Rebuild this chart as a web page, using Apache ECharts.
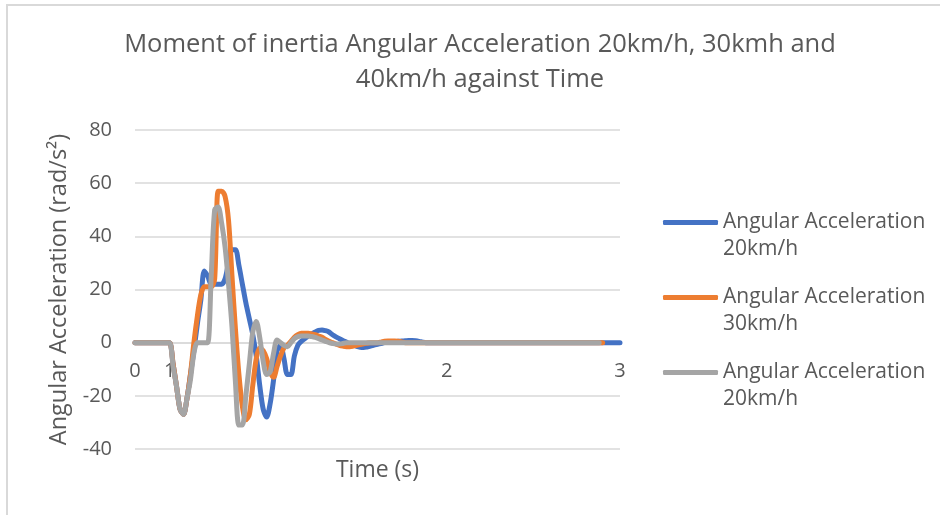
<!DOCTYPE html>
<html>
<head>
<meta charset="utf-8">
<script src="https://cdn.jsdelivr.net/npm/echarts@6/dist/echarts.min.js"></script>
<style>
  html, body { margin: 0; padding: 0; background: #fff; }
  #chart { width: 940px; height: 515px; }
</style>
</head>
<body>
<div id="chart"></div>
<script>
// time samples (s) used as categories
var timeValues = [
  0, 0.1, 0.2, 0.3, 0.4, 0.5, 0.6, 0.7, 0.8, 0.9,
  1, 1.0125, 1.025, 1.0375, 1.05, 1.0625, 1.075, 1.0875, 1.1, 1.1125,
  1.125, 1.1375, 1.15, 1.1625, 1.175, 1.1875, 1.2, 1.2125, 1.225, 1.2375,
  1.25, 1.2625, 1.275, 1.2875, 1.3, 1.3125, 1.325, 1.3375, 1.35, 1.3625,
  1.375, 1.3875, 1.4, 1.4125, 1.425, 1.4375, 1.45, 1.4625, 1.475, 1.4875,
  1.5, 1.5125, 1.525, 1.5375, 1.55, 1.5625, 1.575, 1.5875, 1.6, 1.6125,
  1.625, 1.6375, 1.65, 1.6625, 1.675, 1.6875, 1.7, 1.7125, 1.725, 1.7375,
  1.75, 1.7625, 1.775, 1.7875, 1.8, 1.8125, 1.825, 1.8375, 1.85, 1.8625,
  1.875, 1.8875, 1.9, 1.9125, 1.925, 1.9375, 1.95, 1.9625, 1.975, 1.9875,
  2, 2.02, 2.04, 2.06, 2.08, 2.1, 2.12, 2.14, 2.16, 2.18,
  2.2, 2.22, 2.24, 2.26, 2.28, 2.3, 2.32, 2.34, 2.36, 2.38,
  2.4, 2.42, 2.44, 2.46, 2.48, 2.5, 2.52, 2.54, 2.56, 2.58,
  2.6, 2.62, 2.64, 2.66, 2.68, 2.7, 2.72, 2.74, 2.76, 2.78,
  2.8, 2.82, 2.84, 2.86, 2.88, 2.9, 2.92, 2.94, 2.96, 2.98,
  3
];

// labels that Excel shows on the time axis
var xTickLabels = ['0', '1', '2', '3'];

// angular acceleration (rad/s^2)
var acc20 = [
  0, 0, 0, 0, 0, 0, 0, 0, 0, 0,
  0, -8, -16.5, -25, -27, -21, -12, -3, 7, 16,
  27, 25, 22, 22, 22, 22, 24, 30, 35, 35,
  29, 22, 15, 9, 3, -5, -16, -25, -28, -23,
  -14, -3, -1, -6, -12, -12, -5, -1, 0.5, 1.5,
  2.5, 3.3, 4, 4.6, 4.8, 4.5, 4, 3, 2.2, 1.5,
  0.8, 0.2, -0.4, -0.9, -1.4, -1.7, -1.8, -1.6, -1.3, -0.9,
  -0.6, -0.3, 0, 0.2, 0.3, 0.4, 0.5, 0.6, 0.7, 0.8,
  0.8, 0.7, 0.5, 0.2, 0, 0, 0, 0, 0, 0,
  0, 0, 0, 0, 0, 0, 0, 0, 0, 0,
  0, 0, 0, 0, 0, 0, 0, 0, 0, 0,
  0, 0, 0, 0, 0, 0, 0, 0, 0, 0,
  0, 0, 0, 0, 0, 0, 0, 0, 0, 0,
  0, 0, 0, 0, 0, 0, 0, 0, 0, 0,
  0
];

var acc30 = [
  0, 0, 0, 0, 0, 0, 0, 0, 0, 0,
  0, -8, -16.5, -25, -27, -21, -12, 0, 10, 18,
  21, 21, 21, 24, 57, 57, 55, 46, 25, 5,
  -12, -24, -29, -27, -16, -6, -2, -3, -6, -11,
  -13, -9, -5, -2, -1, 0.5, 2, 3, 3.5, 3.5,
  3.5, 3.3, 3, 2.5, 2, 1.2, 0.5, 0, -0.5, -1,
  -1.3, -1.5, -1.5, -1.3, -1, -0.7, -0.4, -0.2, 0, 0,
  0, 0.2, 0.5, 0.6, 0.6, 0.6, 0.5, 0.3, 0, 0,
  0, 0, 0, 0, 0, 0, 0, 0, 0, 0,
  0, 0, 0, 0, 0, 0, 0, 0, 0, 0,
  0, 0, 0, 0, 0, 0, 0, 0, 0, 0,
  0, 0, 0, 0, 0, 0, 0, 0, 0, 0,
  0, 0, 0, 0, 0, 0, 0, 0, 0, 0,
  0, 0, 0, 0, 0, 0
];

var acc40 = [
  0, 0, 0, 0, 0, 0, 0, 0, 0, 0,
  0, -9, -16.5, -25, -27, -21, -14, -4, 0, 0,
  0, 0, 25, 50, 51, 45, 36, 22, 6, -15,
  -31, -31, -20, -8, 4, 8, 2, -7, -12, -11,
  -4, 1, 0, -1, -1.5, 0, 1.5, 2.3, 2.5, 2.5,
  2.5, 2.3, 2, 1.5, 1, 0.5, 0, -0.3, -0.5, -0.5,
  -0.3, 0, 0, 0, 0, 0, 0, 0, 0, 0,
  0, 0, 0, 0, 0, 0, 0, 0, 0, 0,
  0, 0, 0, 0, 0, 0, 0, 0, 0, 0,
  0, 0, 0, 0, 0, 0, 0, 0, 0, 0,
  0, 0, 0, 0, 0, 0, 0, 0, 0, 0,
  0, 0, 0, 0, 0, 0, 0, 0, 0, 0,
  0, 0, 0, 0, 0, 0, 0, 0, 0, 0,
  0, 0, 0, 0, 0
];

// the third series carries the same label as the first in the original; trailing space keeps it a separate legend entry
var seriesNames = ['Angular Acceleration\n20km/h', 'Angular Acceleration\n30km/h', 'Angular Acceleration\n20km/h '];
var seriesColors = ['#4472C4', '#ED7D31', '#A5A5A5'];

var FONT = '"Open Sans", sans-serif';
var TEXT_COLOR = '#595959';

var chart = echarts.init(document.getElementById('chart'));

function lineSeries (name, data, color) {
  return {
    name: name,
    type: 'line',
    data: data,
    smooth: 0.3,
    symbol: 'none',
    lineStyle: { color: color, width: 5, cap: 'round', join: 'round' },
    itemStyle: { color: color },
    emphasis: { disabled: true }
  }
}

chart.setOption({
  backgroundColor: '#fff',
  animation: false,
  textStyle: { fontFamily: FONT },
  title: {
    text: 'Moment of inertia Angular Acceleration 20km/h, 30kmh and\n40km/h against Time',
    left: 480,
    top: 27,
    padding: 0,
    textAlign: 'center',
    textStyle: {
      fontFamily: FONT,
      fontSize: 25.5,
      fontWeight: 'normal',
      color: TEXT_COLOR,
      lineHeight: 35
    }
  },
  legend: {
    orient: 'vertical',
    left: 663,
    top: 182,
    padding: 0,
    itemGap: -6,
    itemWidth: 55,
    itemHeight: 5,
    icon: 'roundRect',
    data: seriesNames,
    // empty first line so the icon sits level with the first text line
    formatter: function (name) { return '\n' + name },
    textStyle: {
      fontFamily: FONT,
      fontSize: 21,
      color: TEXT_COLOR,
      lineHeight: 27
    }
  },
  grid: { left: 135, right: 320, top: 130, bottom: 66, outerBoundsMode: 'none' },
  xAxis: {
    type: 'category',
    boundaryGap: false,
    data: timeValues.map(String),
    // axis crosses the value axis at 0 (449 - 343 px)
    offset: -106,
    name: 'Time (s)',
    nameLocation: 'middle',
    nameGap: 116,
    nameTextStyle: { fontFamily: FONT, fontSize: 23, color: TEXT_COLOR },
    axisLine: { show: true, onZero: false, lineStyle: { color: '#d9d9d9', width: 1.5 } },
    axisTick: { show: false },
    axisLabel: {
      interval: function (index, value) { return xTickLabels.indexOf(value) >= 0 },
      margin: 18,
      fontFamily: FONT,
      fontSize: 20,
      color: TEXT_COLOR
    },
    splitLine: { show: false }
  },
  yAxis: {
    type: 'value',
    min: -40,
    max: 80,
    interval: 20,
    name: 'Angular Acceleration (rad/s²)',
    nameLocation: 'middle',
    nameRotate: 90,
    nameGap: 61,
    nameTextStyle: { fontFamily: FONT, fontSize: 23.5, color: TEXT_COLOR },
    axisLine: { show: false },
    axisTick: { show: false },
    axisLabel: { margin: 23, fontFamily: FONT, fontSize: 20, color: TEXT_COLOR },
    splitLine: { show: true, lineStyle: { color: '#d9d9d9', width: 1.5 } }
  },
  graphic: [{
    type: 'rect',
    shape: { x: 7, y: 5, width: 1000, height: 600 },
    style: { fill: 'none', stroke: '#d9d9d9', lineWidth: 2 },
    silent: true,
    z: -1
  }],
  series: [
    lineSeries(seriesNames[0], acc20, seriesColors[0]),
    lineSeries(seriesNames[1], acc30, seriesColors[1]),
    lineSeries(seriesNames[2], acc40, seriesColors[2])
  ]
});
</script>
</body>
</html>
